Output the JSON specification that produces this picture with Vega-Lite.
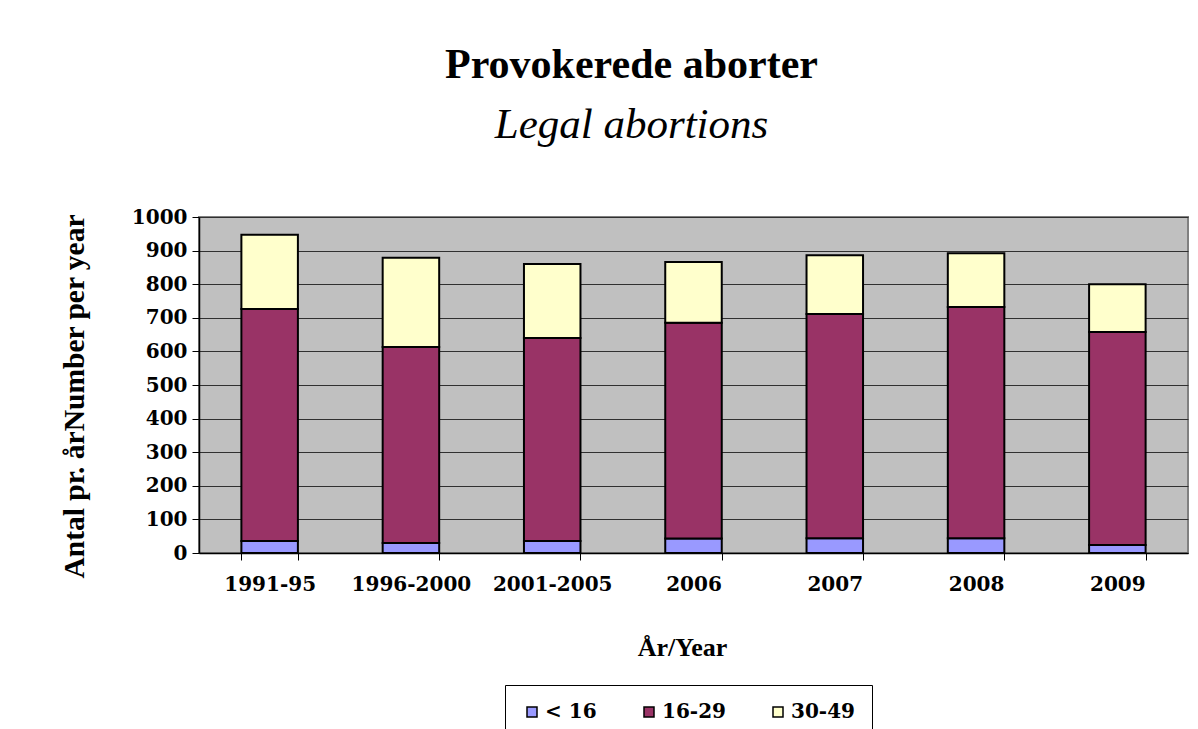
{
  "$schema": "https://vega.github.io/schema/vega-lite/v6.json",
  "autosize": {"type": "none"},
  "padding": {"left": 199, "top": 217, "right": 10, "bottom": 176},
  "width": 989,
  "height": 336,
  "background": "white",
  "title": {
    "text": "Provokerede aborter",
    "subtitle": "Legal abortions",
    "font": "Liberation Serif",
    "fontSize": 42,
    "fontWeight": "bold",
    "color": "black",
    "subtitleFont": "Liberation Serif",
    "subtitleFontSize": 43,
    "subtitleFontStyle": "italic",
    "subtitleFontWeight": "normal",
    "subtitleColor": "black",
    "subtitlePadding": 17,
    "anchor": "middle",
    "dx": -62,
    "offset": 59
  },
  "data": {
    "values": [
      {"period": "1991-95", "age": "< 16", "ord": 0, "n": 36},
      {"period": "1991-95", "age": "16-29", "ord": 1, "n": 690},
      {"period": "1991-95", "age": "30-49", "ord": 2, "n": 221},
      {"period": "1996-2000", "age": "< 16", "ord": 0, "n": 30},
      {"period": "1996-2000", "age": "16-29", "ord": 1, "n": 583},
      {"period": "1996-2000", "age": "30-49", "ord": 2, "n": 266},
      {"period": "2001-2005", "age": "< 16", "ord": 0, "n": 36},
      {"period": "2001-2005", "age": "16-29", "ord": 1, "n": 604},
      {"period": "2001-2005", "age": "30-49", "ord": 2, "n": 220},
      {"period": "2006", "age": "< 16", "ord": 0, "n": 43},
      {"period": "2006", "age": "16-29", "ord": 1, "n": 642},
      {"period": "2006", "age": "30-49", "ord": 2, "n": 181},
      {"period": "2007", "age": "< 16", "ord": 0, "n": 44},
      {"period": "2007", "age": "16-29", "ord": 1, "n": 667},
      {"period": "2007", "age": "30-49", "ord": 2, "n": 175},
      {"period": "2008", "age": "< 16", "ord": 0, "n": 44},
      {"period": "2008", "age": "16-29", "ord": 1, "n": 688},
      {"period": "2008", "age": "30-49", "ord": 2, "n": 160},
      {"period": "2009", "age": "< 16", "ord": 0, "n": 24},
      {"period": "2009", "age": "16-29", "ord": 1, "n": 634},
      {"period": "2009", "age": "30-49", "ord": 2, "n": 142}
    ]
  },
  "mark": {"type": "bar", "stroke": "black", "strokeWidth": 2},
  "encoding": {
    "x": {
      "field": "period",
      "type": "nominal",
      "sort": null,
      "scale": {"paddingInner": 0.6, "paddingOuter": 0.3},
      "axis": {
        "title": "År/Year",
        "titleFont": "Liberation Serif",
        "titleFontSize": 26,
        "titleFontWeight": "bold",
        "titleColor": "black",
        "titlePadding": 40,
        "titleX": 483,
        "labelFont": "DejaVu Serif",
        "labelFontSize": 20,
        "labelFontWeight": "bold",
        "labelColor": "black",
        "labelAngle": 0,
        "labelPadding": 14,
        "tickBand": "extent",
        "tickSize": 7,
        "tickColor": "black",
        "domainColor": "black",
        "domainWidth": 1.5,
        "grid": false
      }
    },
    "y": {
      "field": "n",
      "type": "quantitative",
      "stack": "zero",
      "scale": {"domain": [0, 1000], "nice": false},
      "axis": {
        "title": "Antal pr. årNumber per year",
        "titleFont": "Liberation Serif",
        "titleFontSize": 29.5,
        "titleFontWeight": "bold",
        "titleColor": "black",
        "titlePadding": 42,
        "titleY": 179,
        "format": "d",
        "values": [0, 100, 200, 300, 400, 500, 600, 700, 800, 900, 1000],
        "labelFont": "DejaVu Serif",
        "labelFontSize": 20,
        "labelFontWeight": "bold",
        "labelColor": "black",
        "labelPadding": 5,
        "tickSize": 7,
        "tickColor": "black",
        "domainColor": "black",
        "domainWidth": 1.5,
        "grid": true,
        "gridColor": "#303030",
        "gridWidth": 1
      }
    },
    "color": {
      "field": "age",
      "type": "nominal",
      "scale": {
        "domain": ["< 16", "16-29", "30-49"],
        "range": ["#9999FF", "#993366", "#FFFFCC"]
      },
      "legend": {
        "title": null,
        "orient": "none",
        "legendX": 306,
        "legendY": 468,
        "direction": "horizontal",
        "padding": 17,
        "strokeColor": "black",
        "fillColor": "white",
        "symbolType": "square",
        "symbolSize": 100,
        "symbolStrokeColor": "black",
        "symbolStrokeWidth": 1.5,
        "symbolOpacity": 1,
        "labelFont": "DejaVu Serif",
        "labelFontSize": 20,
        "labelFontWeight": "bold",
        "labelColor": "black",
        "labelOffset": 3,
        "columnPadding": 42
      }
    },
    "order": {"field": "ord", "type": "quantitative"}
  },
  "config": {
    "view": {"fill": "#C0C0C0", "stroke": "#808080", "strokeWidth": 2}
  }
}
